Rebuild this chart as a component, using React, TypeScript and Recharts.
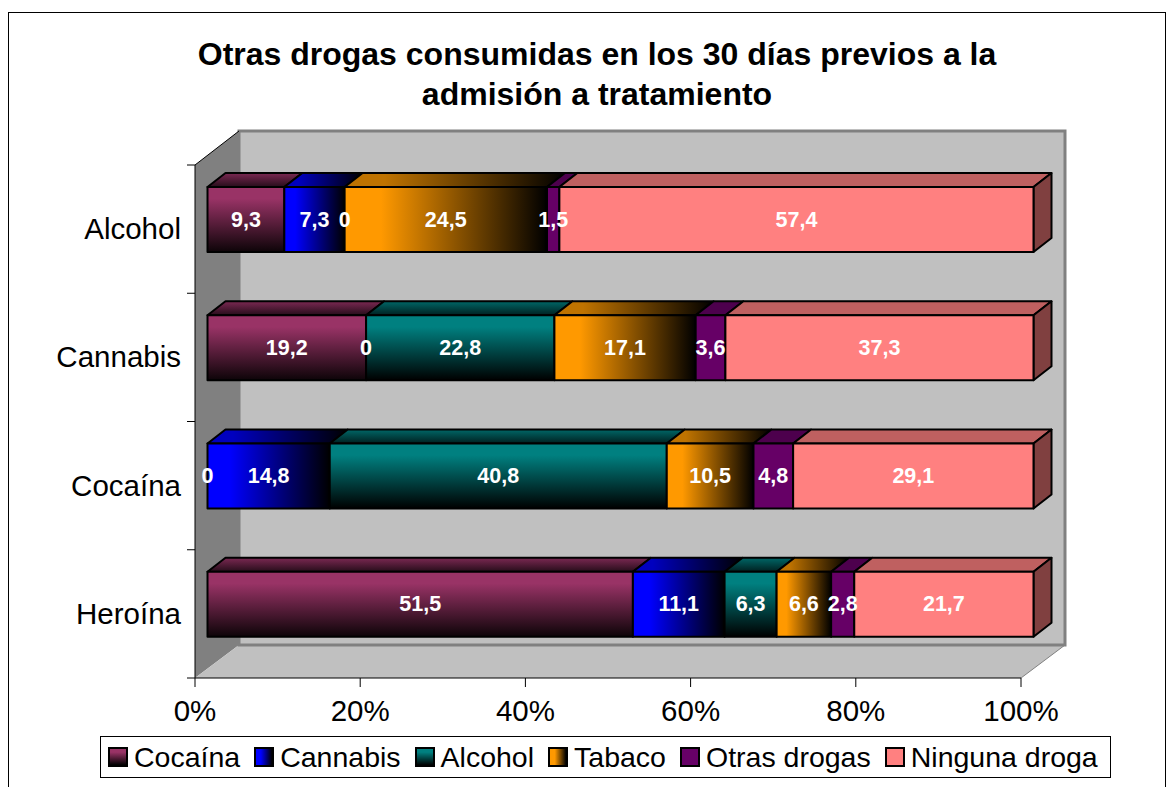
import { BarChart, Bar, XAxis, YAxis, Legend, LabelList } from 'recharts';

const categories = ['Alcohol', 'Cannabis', 'Cocaína', 'Heroína'];
const cocaina = [9.3, 19.2, 0, 51.5];
const cannabis = [7.3, 0, 14.8, 11.1];
const alcohol = [0, 22.8, 40.8, 6.3];
const tabaco = [24.5, 17.1, 10.5, 6.6];
const otras = [1.5, 3.6, 4.8, 2.8];
const ninguna = [57.4, 37.3, 29.1, 21.7];
const xTicks = [0, 20, 40, 60, 80, 100];

const seriesNames = ['Cocaína', 'Cannabis', 'Alcohol', 'Tabaco', 'Otras drogas', 'Ninguna droga'];
const seriesValues = [cocaina, cannabis, alcohol, tabaco, otras, ninguna];
const faceFills = ['url(#faceCoc)', 'url(#faceCan)', 'url(#faceAlc)', 'url(#faceTab)', '#660066', '#FF8080'];
const topFills = ['url(#topCoc)', 'url(#topCan)', 'url(#topAlc)', 'url(#topTab)', '#4D004D', '#BF6060'];
const legendFills = [
  'linear-gradient(to bottom, #993366 20%, #000 100%)',
  'linear-gradient(to right, #0000FF 30%, #000 100%)',
  'linear-gradient(to bottom, #008080 20%, #000 100%)',
  'linear-gradient(to right, #FF9900 30%, #000 100%)',
  '#660066',
  '#FF8080',
];

const data = categories.map((name, i) => {
  const row: any = { name };
  seriesNames.forEach((s, k) => {
    row[s] = seriesValues[k][i];
  });
  return row;
});

const FONT = '"Liberation Sans", Arial, sans-serif';
const SHIFT_X = 12.5;
const SHIFT_Y = -10;
const DEPTH_X = 18;
const DEPTH_Y = 14;

// 3D box, the library gives the front face, we only shift it and add the top
const makeBox = (k: number) => (props: any) => {
  const { x, y, width, height } = props;
  if (!width) return <g />;
  const fx = x + SHIFT_X;
  const fy = y + SHIFT_Y;
  return (
    <g stroke='#000' strokeWidth={2} strokeLinejoin='round'>
      <polygon
        points={`${fx},${fy} ${fx + width},${fy} ${fx + width + DEPTH_X},${fy - DEPTH_Y} ${fx + DEPTH_X},${fy - DEPTH_Y}`}
        fill={topFills[k]}
      />
      {k === 5 && (
        <polygon
          points={`${fx + width},${fy} ${fx + width + DEPTH_X},${fy - DEPTH_Y} ${fx + width + DEPTH_X},${fy + height - DEPTH_Y} ${fx + width},${fy + height}`}
          fill='#804040'
        />
      )}
      <rect x={fx} y={fy} width={width} height={height} fill={faceFills[k]} />
    </g>
  );
};

const renderValue = ({ x, y, width, height, value }: any) => (
  <text
    x={x + width / 2 + SHIFT_X}
    y={y + height / 2 + SHIFT_Y + 7}
    fill='#fff'
    textAnchor='middle'
    fontFamily={FONT}
    fontWeight='bold'
    fontSize={21.5}
  >
    {String(value).replace('.', ',')}
  </text>
);

const renderCategoryTick = ({ x, y, payload }: any) => {
  const band = 128.25;
  return (
    <g>
      <line x1={x} x2={x + 8} y1={y - band / 2} y2={y - band / 2} stroke='#000' />
      {payload.index === categories.length - 1 && (
        <line x1={x} x2={x + 8} y1={y + band / 2} y2={y + band / 2} stroke='#000' />
      )}
      <text x={x - 6} y={y + 10} textAnchor='end' fontFamily={FONT} fontSize={29.5} fill='#000'>
        {payload.value}
      </text>
    </g>
  );
};

const renderLegend = () => (
  <div
    style={{
      boxSizing: 'border-box',
      width: 1011,
      height: 42,
      border: '1px solid #000',
      background: '#fff',
      display: 'flex',
      alignItems: 'center',
      paddingLeft: 7,
      fontFamily: FONT,
      fontSize: 28.5,
      color: '#000',
      whiteSpace: 'nowrap',
    }}
  >
    {seriesNames.map((s, k) => (
      <span key={s} style={{ display: 'flex', alignItems: 'center', marginRight: 14 }}>
        <span
          style={{
            boxSizing: 'border-box',
            width: 20,
            height: 20,
            border: '2px solid #000',
            background: legendFills[k],
            marginRight: 6,
          }}
        />
        {s}
      </span>
    ))}
  </div>
);

export default function App() {
  return (
    <div style={{ position: 'absolute', left: 0, top: 0, width: 1173, height: 787, overflow: 'hidden', background: '#fff' }}>
      <svg width={1173} height={787} style={{ position: 'absolute', left: 0, top: 0 }}>
        <rect x={8.5} y={12.5} width={1157} height={800} fill='#fff' stroke='#000' />
        <polygon points='195,165 239,131 239,645 195,678' fill='#808080' />
        <polygon points='195,678 239,645 1065,645 1021,678' fill='#C0C0C0' />
        <rect x={239} y={131} width={826} height={514} fill='#C0C0C0' stroke='#808080' strokeWidth={3} />
        <line x1={195} y1={165} x2={239} y2={131} stroke='#000' />
        <line x1={1021} y1={678} x2={1065} y2={645} stroke='#808080' />
        <text x={597} y={65} textAnchor='middle' fontFamily={FONT} fontWeight='bold' fontSize={32}>
          Otras drogas consumidas en los 30 días previos a la
        </text>
        <text x={597} y={105} textAnchor='middle' fontFamily={FONT} fontWeight='bold' fontSize={32}>
          admisión a tratamiento
        </text>
      </svg>
      <div style={{ position: 'absolute', left: 0, top: 0 }}>
        <BarChart
          width={1173}
          height={787}
          data={data}
          layout='vertical'
          barSize={65}
          margin={{ top: 165, right: 152, bottom: 49, left: 15 }}
        >
          <defs>
            <linearGradient id='faceCoc' x1='0' y1='0' x2='0' y2='1'>
              <stop offset='0.18' stopColor='#993366' />
              <stop offset='1' stopColor='#0d0408' />
            </linearGradient>
            <linearGradient id='topCoc' x1='0' y1='0' x2='0' y2='1'>
              <stop offset='0.1' stopColor='#73264D' />
              <stop offset='1' stopColor='#260d1a' />
            </linearGradient>
            <linearGradient id='faceCan' x1='0' y1='0' x2='1' y2='0'>
              <stop offset='0.18' stopColor='#0000FF' />
              <stop offset='1' stopColor='#000' />
            </linearGradient>
            <linearGradient id='topCan' x1='0' y1='0' x2='1' y2='0'>
              <stop offset='0.18' stopColor='#0000BF' />
              <stop offset='1' stopColor='#000' />
            </linearGradient>
            <linearGradient id='faceAlc' x1='0' y1='0' x2='0' y2='1'>
              <stop offset='0.18' stopColor='#008080' />
              <stop offset='1' stopColor='#000' />
            </linearGradient>
            <linearGradient id='topAlc' x1='0' y1='0' x2='0' y2='1'>
              <stop offset='0.1' stopColor='#006060' />
              <stop offset='1' stopColor='#002020' />
            </linearGradient>
            <linearGradient id='faceTab' x1='0' y1='0' x2='1' y2='0'>
              <stop offset='0.18' stopColor='#FF9900' />
              <stop offset='1' stopColor='#000' />
            </linearGradient>
            <linearGradient id='topTab' x1='0' y1='0' x2='1' y2='0'>
              <stop offset='0.18' stopColor='#BF7300' />
              <stop offset='1' stopColor='#000' />
            </linearGradient>
          </defs>
          <XAxis
            type='number'
            domain={[0, 100]}
            ticks={xTicks}
            interval={0}
            height={60}
            tickFormatter={(v: number) => `${v}%`}
            tick={{ fill: '#000', fontSize: 29.5, fontFamily: FONT }}
            tickSize={9}
            tickMargin={13}
            axisLine={{ stroke: '#000' }}
            tickLine={{ stroke: '#000' }}
          />
          <YAxis
            type='category'
            dataKey='name'
            width={180}
            tick={renderCategoryTick}
            tickLine={false}
            axisLine={{ stroke: '#000' }}
            interval={0}
          />
          <Legend
            content={renderLegend}
            layout='horizontal'
            verticalAlign='middle'
            wrapperStyle={{ left: 100, top: 736, width: 1011, height: 42 }}
          />
          {seriesNames.map((s, k) => (
            <Bar key={s} dataKey={s} stackId='a' shape={makeBox(k)} isAnimationActive={false}>
              <LabelList dataKey={s} content={renderValue} />
            </Bar>
          ))}
        </BarChart>
      </div>
    </div>
  );
}
